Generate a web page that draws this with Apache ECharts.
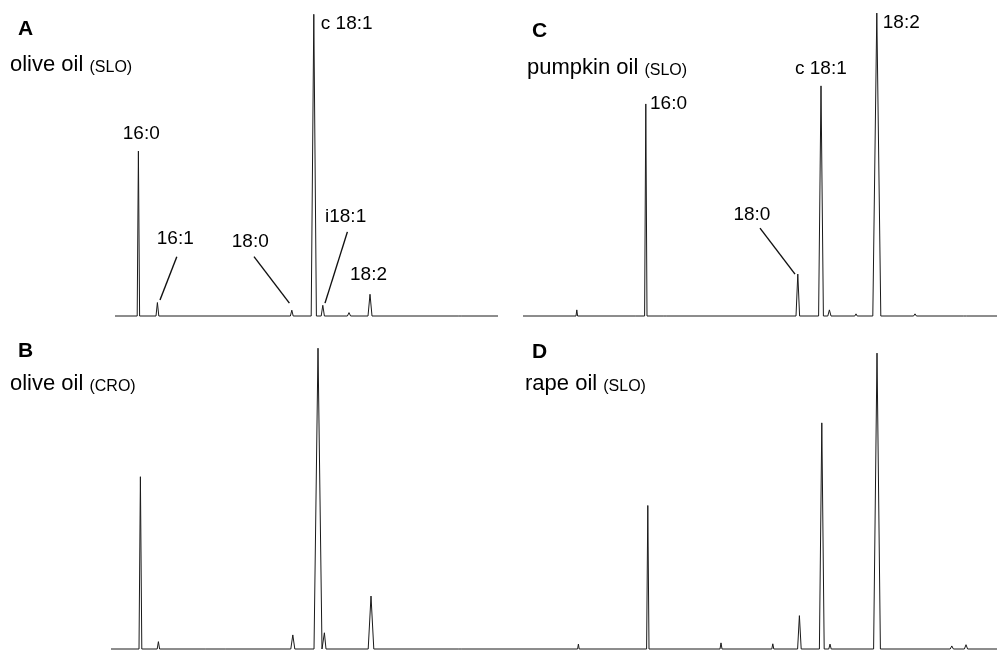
<!DOCTYPE html>
<html>
<head>
<meta charset="utf-8">
<script src="https://cdn.jsdelivr.net/npm/echarts@6/dist/echarts.min.js"></script>
<style>
    html, body { margin: 0; padding: 0; background: #fff; }
    #chart { width: 997px; height: 651px; }
</style>
</head>
<body>
<div id="chart"></div>
<script>
    // retention time (min), relative height (%), half base width (min)
    const rtA = [9.37, 10.1, 10.32, 17.04, 18.14, 18.59, 19.9, 20.95, 25.45]
    const hA = [53.9, 0.5, 4.4, 1.9, 98.6, 3.5, 1.1, 7.1, 0.4]
    const wA = [0.06, 0.05, 0.07, 0.07, 0.13, 0.08, 0.08, 0.1, 0.06]

    const rtB = [9.47, 10.15, 10.37, 12.79, 13.79, 17.09, 18.35, 18.67, 21.0, 25.45]
    const hB = [56.3, 0.6, 2.4, 0.4, 0.6, 4.6, 98.3, 5.3, 17.3, 0.6]
    const wB = [0.07, 0.05, 0.06, 0.05, 0.05, 0.1, 0.2, 0.08, 0.14, 0.06]

    const rtC = [4.6, 5.94, 7.65, 8.94, 9.39, 10.35, 16.99, 18.15, 18.57, 19.9, 20.94, 22.85, 25.35]
    const hC = [0.4, 2.0, 0.4, 0.6, 69.3, 0.4, 13.7, 75.2, 2.0, 0.7, 99.0, 0.7, 0.6]
    const wC = [0.05, 0.04, 0.05, 0.05, 0.06, 0.06, 0.09, 0.12, 0.08, 0.06, 0.2, 0.07, 0.07]

    const rtD = [6.02, 9.49, 13.15, 15.74, 17.07, 18.19, 18.6, 20.95, 24.69, 25.4]
    const hD = [1.6, 46.9, 2.0, 1.7, 10.9, 73.9, 1.6, 96.7, 1.0, 1.4]
    const wD = [0.04, 0.06, 0.05, 0.05, 0.09, 0.12, 0.06, 0.17, 0.08, 0.08]

    // run start / end of each trace (min)
    const runA = [8.2, 27.35]
    const runB = [8.0, 27.45]
    const runC = [3.25, 26.95]
    const runD = [2.1, 26.95]

    // peak annotations: text, anchor [rt, height]
    const labelsA = ['c 18:1', '16:0', '16:1', '18:0', 'i18:1', '18:2']
    const anchorsA = [[18.49, 95.4], [8.59, 59.6], [10.29, 25.1], [14.04, 24.3], [18.7, 32.5], [19.95, 13.4]]
    const leadersA = [
        [[11.29, 19.4], [10.45, 5.2]],
        [[15.15, 19.4], [16.92, 4.2]],
        [[19.82, 27.5], [18.7, 4.2]]
    ]
    const labelsC = ['16:0', '18:0', 'c 18:1', '18:2']
    const anchorsC = [[9.6, 69.5], [13.77, 33.0], [16.85, 80.9], [21.24, 95.8]]
    const leadersC = [
        [[15.1, 28.7], [16.85, 13.7]]
    ]

    const panels = [
        { letter: 'A', oil: 'olive oil ', origin: '(SLO)' },
        { letter: 'B', oil: 'olive oil ', origin: '(CRO)' },
        { letter: 'C', oil: 'pumpkin oil ', origin: '(SLO)' },
        { letter: 'D', oil: 'rape oil ', origin: '(SLO)' }
    ]

    const font = '"Liberation Sans", Arial, Helvetica, sans-serif'

    function trace (rt, h, w, run) {
        const idx = rt.map((v, i) => i).sort((a, b) => rt[a] - rt[b])
        const pts = [[run[0], 0]]
        idx.forEach(i => {
            pts.push([rt[i] - w[i], 0])
            pts.push([rt[i], h[i]])
            pts.push([rt[i] + w[i], 0])
        })
        pts.push([run[1], 0])
        return pts
    }

    function marks (labels, anchors, leaders) {
        return {
            markPoint: {
                symbol: 'circle',
                symbolSize: 0,
                silent: true,
                label: {
                    show: true,
                    position: 'inside',
                    align: 'left',
                    verticalAlign: 'middle',
                    fontFamily: font,
                    fontSize: 19,
                    color: '#000',
                    formatter: p => p.name
                },
                data: labels.map((s, i) => ({ name: s, coord: anchors[i] }))
            },
            markLine: {
                symbol: ['none', 'none'],
                silent: true,
                animation: false,
                label: { show: false },
                lineStyle: { color: '#111', width: 1.4, type: 'solid' },
                data: leaders.map(l => [{ coord: l[0] }, { coord: l[1] }])
            }
        }
    }

    const grids = [
        { left: 111, width: 389, top: 10, height: 306 },
        { left: 111, width: 389, top: 343, height: 306 },
        { left: 500, width: 497, top: 10, height: 306 },
        { left: 500, width: 497, top: 343, height: 306 }
    ]
    const xRanges = [[8.0, 27.45], [8.0, 27.45], [2.1, 26.95], [2.1, 26.95]]

    const letterPos = [[18, 18.5], [18, 341], [532, 20.5], [532, 342]]
    const oilPos = [[10, 54], [10, 373], [527, 57], [525, 373]]

    const titles = []
    panels.forEach((p, i) => {
        titles.push({
            text: p.letter,
            left: letterPos[i][0],
            top: letterPos[i][1],
            padding: 0,
            textStyle: { fontFamily: font, fontSize: 21, fontWeight: 'bold', color: '#000' }
        })
        titles.push({
            text: '{n|' + p.oil + '}{s|' + p.origin + '}',
            left: oilPos[i][0],
            top: oilPos[i][1],
            padding: 0,
            textStyle: {
                fontWeight: 'normal',
                rich: {
                    n: { fontFamily: font, fontSize: 22, fontWeight: 'normal', color: '#000', verticalAlign: 'bottom', lineHeight: 22 },
                    s: { fontFamily: font, fontSize: 16, fontWeight: 'normal', color: '#000', verticalAlign: 'bottom', lineHeight: 22 }
                }
            }
        })
    })

    const traces = [
        trace(rtA, hA, wA, runA),
        trace(rtB, hB, wB, runB),
        trace(rtC, hC, wC, runC),
        trace(rtD, hD, wD, runD)
    ]

    const series = traces.map((data, i) => {
        const s = {
            type: 'line',
            xAxisIndex: i,
            yAxisIndex: i,
            data,
            symbol: 'none',
            showSymbol: false,
            clip: false,
            animation: false,
            emphasis: { disabled: true },
            lineStyle: { color: '#1a1a1a', width: 1 }
        }
        if (i === 0) Object.assign(s, marks(labelsA, anchorsA, leadersA))
        if (i === 2) Object.assign(s, marks(labelsC, anchorsC, leadersC))
        return s
    })

    const chart = echarts.init(document.getElementById('chart'))
    chart.setOption({
        animation: false,
        backgroundColor: '#fff',
        title: titles,
        grid: grids,
        xAxis: xRanges.map((r, i) => ({
            type: 'value',
            gridIndex: i,
            min: r[0],
            max: r[1],
            show: false
        })),
        yAxis: grids.map((g, i) => ({
            type: 'value',
            gridIndex: i,
            min: 0,
            max: 100,
            show: false
        })),
        series
    })
</script>
</body>
</html>
